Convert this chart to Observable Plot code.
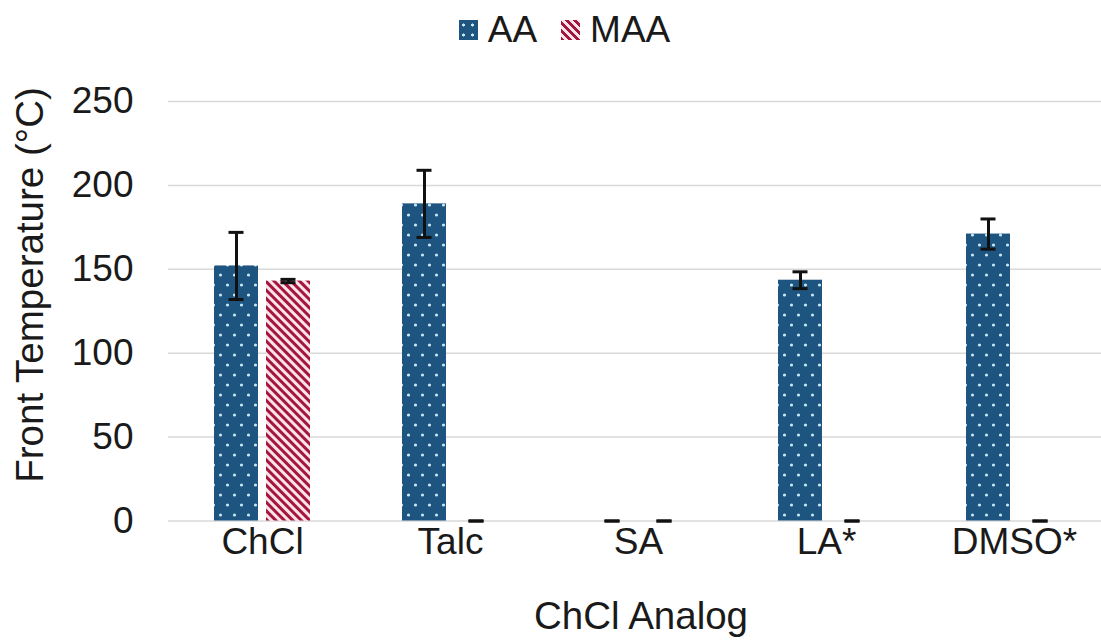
<!DOCTYPE html>
<html>
<head>
<meta charset="utf-8">
<script src="https://cdn.jsdelivr.net/npm/d3@7"></script>
<script src="https://cdn.jsdelivr.net/npm/@observablehq/plot@0.6"></script>
<style>
  html, body { margin: 0; padding: 0; background: #fff; }
  body { width: 1101px; height: 640px; position: relative; overflow: hidden;
         font-family: "Liberation Sans", Arial, sans-serif; color: #1a1a1a; }
  #legend { height: 60px; display: flex; justify-content: center; align-items: center;
            padding-left: 28px; box-sizing: border-box; font-size: 37px; }
  .item { display: flex; align-items: center; margin: 0 12px; }
  .swatch { width: 19px; height: 20px; margin-right: 10px; }
  .sw-aa { background-color: #1d5480;
           background-image: radial-gradient(circle, #c6e6f2 1.3px, transparent 1.8px);
           background-size: 9px 10px; }
  .sw-maa { background: repeating-linear-gradient(45deg, #a3173f 0 2.8px, #fbe3e8 2.8px 5.6px); }
  #ytitle { position: absolute; left: 30px; top: 285px; font-size: 38.5px; line-height: 1;
            white-space: nowrap; transform: translate(-50%, -50%) rotate(-90deg); }
  #xtitle { position: absolute; left: 641px; top: 616px; font-size: 38.5px; line-height: 1;
            white-space: nowrap; transform: translate(-50%, -50%); }
  svg { display: block; }
</style>
</head>
<body>
<div id="legend">
  <div class="item"><div class="swatch sw-aa"></div><span>AA</span></div>
  <div class="item"><div class="swatch sw-maa"></div><span>MAA</span></div>
</div>
<div id="chart"></div>
<div id="ytitle">Front Temperature (°C)</div>
<div id="xtitle">ChCl Analog</div>
<script>
// ChCl analogs and the two monomers
const categories = ["ChCl", "Talc", "SA", "LA*", "DMSO*"];
const series = ["AA", "MAA"];

// Front temperature (°C) with standard deviation
const aaTemp = [152, 189, 0, 143.5, 171];
const aaErr  = [20, 20, 0, 5, 9];
const maaTemp = [143, 0, 0, 0, 0];
const maaErr  = [1, 0, 0, 0, 0];

const yTicks = [0, 50, 100, 150, 200, 250];

const rows = [];
categories.forEach((c, i) => {
  rows.push({cat: c, series: "AA", temp: aaTemp[i], err: aaErr[i]});
  rows.push({cat: c, series: "MAA", temp: maaTemp[i], err: maaErr[i]});
});

const fillFor = {AA: "url(#aaDots)", MAA: "url(#maaStripes)"};
const font = "'Liberation Sans', Arial, sans-serif";

const chart = Plot.plot({
  width: 1101,
  height: 525,
  marginTop: 41,
  marginBottom: 64.5,
  marginLeft: 168,
  marginRight: -7,
  style: {fontFamily: font, fontSize: "37px", color: "#1a1a1a", background: "#fff"},
  fx: {domain: categories, padding: 0},
  x: {domain: series, paddingInner: 0.163, paddingOuter: 0.889, axis: null},
  y: {domain: [0, 250]},
  marks: [
    Plot.gridY(yTicks, {stroke: "#d9d9d9", strokeOpacity: 1, strokeWidth: 1.5}),
    Plot.axisY(yTicks, {tickSize: 0, tickPadding: 35, fontSize: 37, label: null}),
    Plot.axisFx({anchor: "bottom", tickSize: 0, tickPadding: 7, fontSize: 37, label: null}),
    ...series.map(s => Plot.barY(rows.filter(d => d.series === s), {
      fx: "cat", x: "series", y: "temp", fill: fillFor[s]
    })),
    Plot.ruleX(rows, {fx: "cat", x: "series", y1: d => d.temp - d.err, y2: d => d.temp + d.err,
      stroke: "#111", strokeWidth: 3}),
    Plot.tickY(rows, {fx: "cat", x: "series", y: d => d.temp + d.err,
      stroke: "#111", strokeWidth: 3, insetLeft: 14.5, insetRight: 14.5}),
    Plot.tickY(rows, {fx: "cat", x: "series", y: d => d.temp - d.err,
      stroke: "#111", strokeWidth: 3, insetLeft: 14.5, insetRight: 14.5})
  ]
});

// Fill patterns for the two series
const defs = d3.select(chart).insert("defs", ":first-child");
const dots = defs.append("pattern").attr("id", "aaDots")
  .attr("patternUnits", "userSpaceOnUse").attr("width", 14).attr("height", 20);
dots.append("rect").attr("width", 14).attr("height", 20).attr("fill", "#1d5480");
dots.append("circle").attr("cx", 3.5).attr("cy", 5).attr("r", 1.6).attr("fill", "#c6e6f2");
dots.append("circle").attr("cx", 10.5).attr("cy", 15).attr("r", 1.6).attr("fill", "#c6e6f2");

const stripes = defs.append("pattern").attr("id", "maaStripes")
  .attr("patternUnits", "userSpaceOnUse").attr("width", 6).attr("height", 6)
  .attr("patternTransform", "rotate(-45)");
stripes.append("rect").attr("width", 6).attr("height", 6).attr("fill", "#fbe3e8");
stripes.append("rect").attr("width", 3).attr("height", 6).attr("fill", "#a3173f");

document.getElementById("chart").appendChild(chart);
</script>
</body>
</html>
